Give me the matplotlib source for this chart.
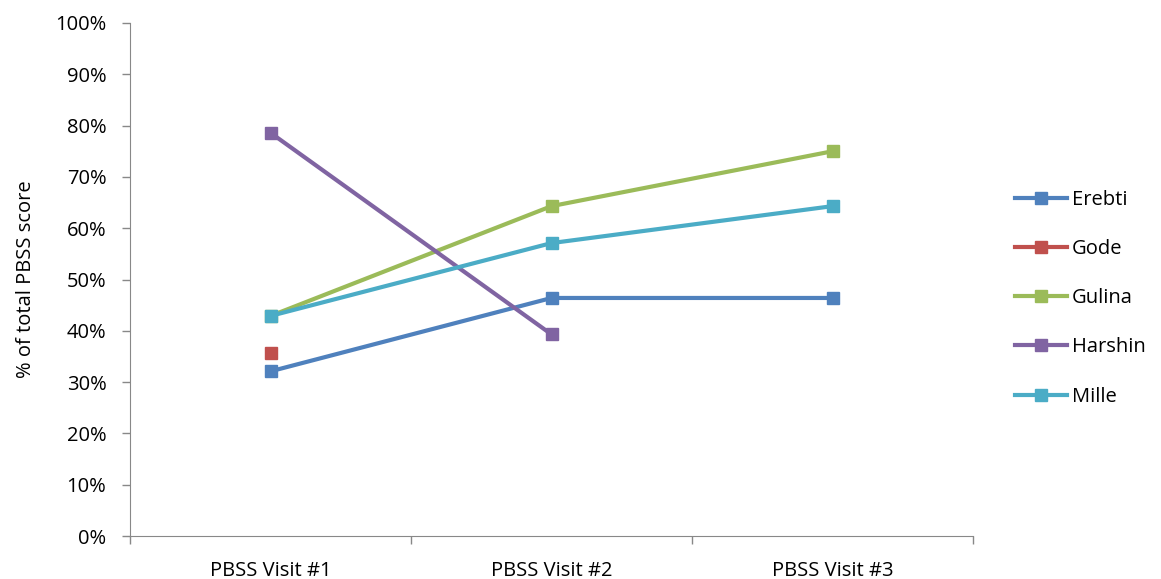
import numpy as np
import matplotlib.pyplot as plt
from matplotlib.ticker import FuncFormatter, FixedLocator

plt.rcParams['font.family'] = ['Open Sans', 'DejaVu Sans']

# data (fraction of total PBSS score)
visits = ["PBSS Visit #1", "PBSS Visit #2", "PBSS Visit #3"]
names = ["Erebti", "Gode", "Gulina", "Harshin", "Mille"]
erebti = [0.321, 0.464, 0.464]
gode = [0.357, np.nan, np.nan]
gulina = [0.429, 0.643, 0.750]
harshin = [0.786, 0.393, np.nan]
mille = [0.429, 0.571, 0.643]
series = [erebti, gode, gulina, harshin, mille]
colors = ["#4F81BD", "#C0504D", "#9BBB59", "#8064A2", "#4BACC6"]

fs = 14.5

fig = plt.figure(figsize=(11.61, 5.79), dpi=100)
ax = fig.add_axes([130/1161, 43/579, 843/1161, 513/579])

x = np.arange(len(visits))
for vals, name, col in zip(series, names, colors):
    ax.plot(x, vals, color=col, lw=3, marker='s', ms=9, label=name)

ax.set_xlim(-0.5, 2.5)
ax.set_ylim(0, 1.0)
ax.set_yticks(np.arange(0, 1.01, 0.1))
ax.yaxis.set_major_formatter(FuncFormatter(lambda v, p: f"{v*100:.0f}%"))
ax.set_xticks(x)
ax.set_xticklabels(visits)
ax.tick_params(axis='x', which='major', length=0, pad=18, labelsize=fs)
ax.xaxis.set_minor_locator(FixedLocator([-0.5, 0.5, 1.5, 2.5]))
ax.tick_params(axis='x', which='minor', length=6, color='#888888', width=1)
ax.tick_params(axis='y', length=6, color='#888888', width=1, labelsize=fs, pad=11)

for s in ['top', 'right']:
    ax.spines[s].set_visible(False)
for s in ['left', 'bottom']:
    ax.spines[s].set_color('#888888')

ax.set_ylabel("% of total PBSS score", fontsize=fs, labelpad=14)

fig.legend(loc='center left', bbox_to_anchor=(997/1161, 0.485), frameon=False,
           fontsize=fs, labelspacing=1.45, handlelength=2.6, handletextpad=0.2)

fig.savefig("out.png", dpi=100)
